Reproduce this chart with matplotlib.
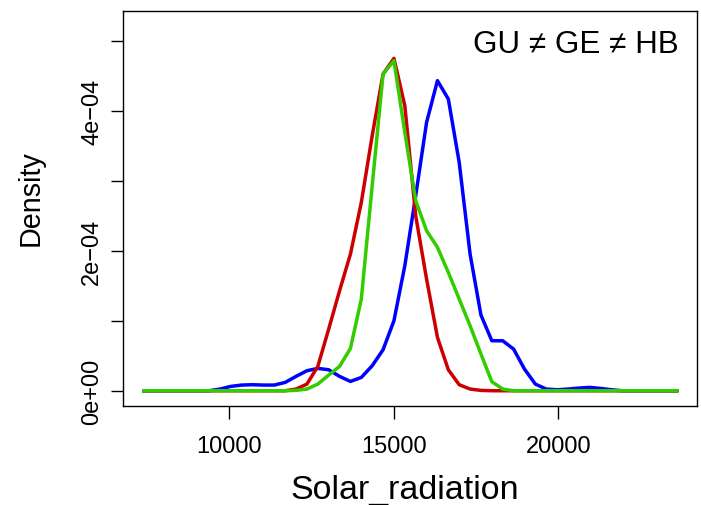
import numpy as np
import matplotlib.pyplot as plt

plt.rcParams['font.family'] = ['Liberation Sans', 'DejaVu Sans']

# evaluation grid of the density estimates
x_start, x_end, n_points = 7400, 23600, 50
grid = np.linspace(x_start, x_end, n_points)

# densities (non-zero part, starting at grid index)
gu_start = 7
gu_vals = [2.4e-6, 6.2e-6, 8.1e-6, 8.6e-6, 8.1e-6, 8.1e-6, 1.19e-5, 2.05e-5,
           2.86e-5, 3.19e-5, 3.0e-5, 2.05e-5, 1.33e-5, 1.9e-5, 3.57e-5, 5.86e-5,
           1.0e-4, 1.786e-4, 2.786e-4, 3.833e-4, 4.429e-4, 4.167e-4, 3.262e-4,
           1.952e-4, 1.081e-4, 7.14e-5, 7.14e-5, 5.95e-5, 3.1e-5, 9.5e-6, 2.4e-6,
           1.4e-6, 2.4e-6, 3.8e-6, 4.8e-6, 3.3e-6, 1.4e-6]
ge_start = 14
ge_vals = [2.4e-6, 9.5e-6, 3.48e-5, 8.81e-5, 1.429e-4, 1.952e-4, 2.69e-4,
           3.643e-4, 4.524e-4, 4.748e-4, 4.071e-4, 2.5e-4, 1.595e-4, 7.62e-5,
           3.0e-5, 8.6e-6, 2.4e-6, 5e-7]
hb_start = 14
hb_vals = [5e-7, 2.4e-6, 9.5e-6, 2.24e-5, 3.48e-5, 6.05e-5, 1.31e-4, 2.929e-4,
           4.524e-4, 4.714e-4, 3.69e-4, 2.714e-4, 2.286e-4, 2.048e-4, 1.69e-4,
           1.31e-4, 9.29e-5, 5.24e-5, 1.29e-5, 2.4e-6]


def full(start, vals):
    d = np.zeros(n_points)
    d[start:start + len(vals)] = vals
    return d


gu = full(gu_start, gu_vals)
ge = full(ge_start, ge_vals)
hb = full(hb_start, hb_vals)

x_ticks = [10000, 15000, 20000]
y_ticks = [0, 1e-4, 2e-4, 3e-4, 4e-4, 5e-4]
y_labels = ['0e+00', '', '2e\u221204', '', '4e\u221204', '']

fig = plt.figure(figsize=(7.01, 5.06), dpi=100)
ax = fig.add_axes([0.1748, 0.1962, 0.8202, 0.7795])

ax.plot(grid, gu, color='#0000FF', lw=2.5)
ax.plot(grid, ge, color='#CC0000', lw=2.5)
ax.plot(grid, hb, color='#33CC00', lw=2.5)

ax.set_xlim(6754, 24231)
ax.set_ylim(-2.14e-5, 5.42e-4)

ax.set_xticks(x_ticks)
ax.set_xticklabels([str(t) for t in x_ticks])
ax.set_yticks(y_ticks)
ax.set_yticklabels(y_labels, rotation=90, va='center')
ax.tick_params(direction='out', length=9, width=1, labelsize=17, pad=12)
ax.tick_params(axis='y', pad=5)
for s in ax.spines.values():
    s.set_linewidth(1)

# axis titles placed where the reference has them
fig.text(405 / 701, 1 - 499 / 506, 'Solar_radiation', fontsize=24.5,
         ha='center', va='baseline')
fig.text(31 / 701, 1 - 198 / 506, 'Density', fontsize=20.7,
         rotation=90, ha='center', va='center')

ax.text(0.968, 0.955, 'GU \u2260 GE \u2260 HB', transform=ax.transAxes,
        ha='right', va='top', fontsize=22.6)

fig.savefig('out.png', dpi=100)
